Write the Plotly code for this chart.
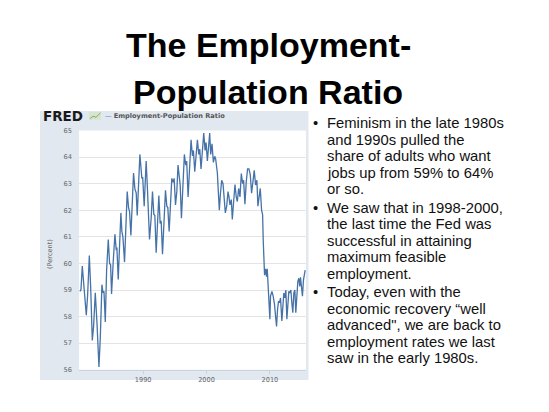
import plotly.graph_objects as go

# ---- data ----
years = [1980.00, 1980.18, 1980.39, 1980.60, 1980.76, 1981.02, 1981.23, 1981.50, 1981.71, 1981.97,
         1982.18, 1982.44, 1982.70, 1983.02, 1983.23, 1983.49, 1983.65, 1983.81, 1984.02, 1984.23,
         1984.49, 1984.70, 1984.86, 1985.01, 1985.28, 1985.54, 1985.75, 1985.85, 1986.06, 1986.27,
         1986.48, 1986.64, 1986.80, 1987.06, 1987.27, 1987.48, 1987.69, 1987.85, 1988.06, 1988.27,
         1988.48, 1988.69, 1988.90, 1989.06, 1989.26, 1989.48, 1989.79, 1989.92, 1990.16, 1990.47,
         1990.68, 1991.00, 1991.26, 1991.47, 1991.68, 1991.84, 1992.05, 1992.26, 1992.47, 1992.68,
         1992.84, 1993.05, 1993.26, 1993.52, 1993.73, 1993.89, 1994.10, 1994.30, 1994.52, 1994.73,
         1994.89, 1995.10, 1995.31, 1995.50, 1995.73, 1995.84, 1996.04, 1996.25, 1996.50, 1996.71,
         1996.87, 1997.09, 1997.30, 1997.56, 1997.77, 1997.93, 1998.14, 1998.35, 1998.56, 1998.77,
         1998.93, 1999.13, 1999.34, 1999.56, 1999.77, 1999.93, 2000.13, 2000.35, 2000.50, 2000.66,
         2000.87, 2001.08, 2001.29, 2001.44, 2001.71, 2001.86, 2002.02, 2002.18, 2002.39, 2002.60,
         2002.81, 2002.97, 2003.18, 2003.39, 2003.54, 2003.70, 2003.91, 2004.07, 2004.28, 2004.49,
         2004.70, 2004.86, 2005.07, 2005.28, 2005.49, 2005.70, 2005.85, 2006.06, 2006.27, 2006.48,
         2006.69, 2006.90, 2007.11, 2007.32, 2007.53, 2007.74, 2007.95, 2008.11, 2008.32, 2008.48,
         2008.69, 2008.85, 2008.95, 2009.06, 2009.16, 2009.32, 2009.47, 2009.58, 2009.79, 2010.00,
         2010.10, 2010.32, 2010.52, 2010.73, 2010.89, 2011.05, 2011.21, 2011.37, 2011.52, 2011.68,
         2011.89, 2012.05, 2012.20, 2012.36, 2012.52, 2012.68, 2012.83, 2012.99, 2013.15, 2013.31,
         2013.46, 2013.62, 2013.78, 2013.94, 2014.09, 2014.25, 2014.41, 2014.57, 2014.72, 2014.83,
         2014.99, 2015.14, 2015.30, 2015.46, 2015.57]
epop = [58.95, 59.0, 59.9, 59.25, 59.1, 58.05, 58.8, 60.3, 59.1, 57.1,
        57.65, 58.9, 57.8, 56.1, 57.2, 59.2, 58.9, 58.95, 57.8, 59.75,
        60.9, 60.0, 59.95, 58.85, 60.1, 61.1, 60.5, 60.6, 59.4, 60.6,
        61.9, 61.2, 61.0, 60.05, 61.2, 62.7, 62.1, 61.95, 61.05, 62.2,
        63.4, 62.8, 62.65, 61.8, 62.95, 64.1, 63.2, 63.25, 62.15, 63.85,
        62.75, 60.9, 61.7, 62.7, 61.85, 61.8, 60.4, 61.6, 62.55, 61.5,
        61.6, 60.35, 61.45, 62.75, 62.15, 62.1, 61.2, 62.2, 63.2, 63.05,
        63.2, 62.2, 62.7, 63.7, 63.2, 62.95, 61.7, 62.95, 64.1, 63.7,
        63.85, 62.5, 63.7, 64.65, 64.05, 64.25, 63.45, 64.2, 64.65, 64.1,
        64.3, 63.55, 64.3, 64.9, 64.25, 64.55, 63.85, 64.65, 64.9, 64.1,
        64.5, 63.8, 64.03, 63.93, 63.4, 62.7, 62.0, 62.58, 63.13, 63.0,
        62.4, 61.9, 62.15, 62.7, 62.5, 62.2, 62.4, 61.65, 62.33, 62.97,
        62.48, 62.33, 62.82, 62.5, 63.38, 63.0, 63.13, 62.23, 63.07, 63.56,
        63.56, 63.34, 62.64, 63.13, 63.5, 62.95, 63.13, 62.15, 62.58, 62.82,
        62.0, 61.84, 60.85, 59.87, 59.56, 59.8, 59.5, 59.8, 58.9, 57.9,
        58.77, 58.95, 58.77, 58.46, 58.03, 57.63, 58.27, 58.58, 58.52, 58.7,
        57.84, 58.58, 58.89, 58.7, 59.0, 57.9, 58.64, 58.95, 58.89, 59.0,
        58.52, 58.15, 58.89, 59.0, 58.15, 58.77, 59.32, 59.44, 59.13, 59.48,
        59.13, 58.77, 59.38, 59.69, 59.75]

x_ticks = [1990, 2000, 2010]
y_ticks = [56, 57, 58, 59, 60, 61, 62, 63, 64, 65]
series_name = "Employment-Population Ratio"
y_unit = "(Percent)"
title_lines = ["The Employment-", "Population Ratio"]
bullets = [
    ["Feminism in the late 1980s", "and 1990s pulled the", "share of adults who want",
     "jobs up from 59% to 64%", "or so."],
    ["We saw that in 1998-2000,", "the last time the Fed was", "successful in attaining",
     "maximum feasible", "employment."],
    ["Today, even with the", "economic recovery \u201cwell", "advanced\", we are back to",
     "employment rates we last", "saw in the early 1980s."],
]

# ---- layout helpers (pixel -> paper) ----
W, H = 549, 412
def px(x):
    return x / W
def py(y):
    return 1 - y / H

LINE_BLUE = "#4572A7"
PANEL = "#e1e8f0"
TICK_GRAY = "#666666"

PLOT_L, PLOT_R, PLOT_T, PLOT_B = 79, 306, 129, 373

fig = go.Figure()
fig.add_trace(go.Scatter(x=years, y=epop, mode="lines", name=series_name,
                         line=dict(color=LINE_BLUE, width=1.3), showlegend=False,
                         hoverinfo="x+y"))

# FRED panel background and white plotting area
fig.add_shape(type="rect", xref="paper", yref="paper",
              x0=px(40), x1=px(308.5), y0=py(383.5), y1=py(109),
              fillcolor=PANEL, line=dict(width=0), layer="below")
fig.add_shape(type="rect", xref="paper", yref="paper",
              x0=px(PLOT_L), x1=px(PLOT_R), y0=py(PLOT_B), y1=py(PLOT_T),
              fillcolor="#ffffff", line=dict(width=0), layer="below")

annotations = []
# title
title_font = dict(family="Liberation Sans, Arial, sans-serif", size=34, color="#000000", weight="bold")
for i, (line, base) in enumerate(zip(title_lines, [53, 101])):
    annotations.append(dict(text="<b>%s</b>" % line, xref="paper", yref="paper",
                            x=px(268), y=py(base - 11.5), xanchor="center", yanchor="middle",
                            showarrow=False, font=title_font))

# bullets
bfont = dict(family="Liberation Sans, Arial, sans-serif", size=14.8, color="#111111")
base = 126.7
line_h = 16.85
gap = 1.8
for para in bullets:
    for j, line in enumerate(para):
        if j == 0:
            annotations.append(dict(text="\u2022", xref="paper", yref="paper", x=px(315),
                                    y=py(base - 5), xanchor="center", yanchor="middle",
                                    showarrow=False, font=bfont))
        annotations.append(dict(text=line, xref="paper", yref="paper", x=px(325),
                                y=py(base - 5), xanchor="left", yanchor="middle",
                                showarrow=False, font=bfont))
        base += line_h
    base += gap

# FRED header
annotations.append(dict(text="<b>FRED</b>", xref="paper", yref="paper", x=px(41), y=py(114),
                        xanchor="left", yanchor="middle", showarrow=False,
                        font=dict(family="DejaVu Sans, Verdana, sans-serif", size=13.5, color="#1a1a1a")))
annotations.append(dict(text="<span style='color:%s'>\u2014</span> <b>%s</b>" % (LINE_BLUE, series_name),
                        xref="paper", yref="paper", x=px(103), y=py(114.5),
                        xanchor="left", yanchor="middle", showarrow=False,
                        font=dict(family="DejaVu Sans, Verdana, sans-serif", size=6.6, color="#555555")))
# y unit label
annotations.append(dict(text=y_unit, xref="paper", yref="paper", x=px(50), y=py(255),
                        xanchor="center", yanchor="middle", textangle=-90, showarrow=False,
                        font=dict(family="DejaVu Sans, Verdana, sans-serif", size=6.6, color=TICK_GRAY)))

# small chart icon next to FRED (decorative)
fig.add_shape(type="rect", xref="paper", yref="paper", x0=px(89), x1=px(101), y0=py(118), y1=py(110),
              fillcolor="#d6e4d0", line=dict(width=0), layer="above")
fig.add_shape(type="path", xref="paper", yref="paper",
              path="M %f %f L %f %f L %f %f L %f %f" % (px(90), py(117), px(93), py(114.5),
                                                         px(96), py(115.5), px(100.5), py(111)),
              line=dict(color="#7fae6b", width=1), layer="above")

fig.update_layout(
    width=W, height=H,
    margin=dict(l=0, r=0, t=0, b=0),
    paper_bgcolor="#ffffff",
    plot_bgcolor="rgba(0,0,0,0)",
    annotations=annotations,
    xaxis=dict(domain=[px(PLOT_L), px(PLOT_R)], range=[1979.87, 2015.7], tickvals=x_ticks,
               ticktext=[str(v) for v in x_ticks], showgrid=False, zeroline=False,
               showline=True, linecolor="#c9d3de", linewidth=1,
               ticks="outside", ticklen=3, tickcolor="#c9d3de",
               tickfont=dict(family="DejaVu Sans, Verdana, sans-serif", size=6.6, color=TICK_GRAY)),
    yaxis=dict(domain=[py(PLOT_B), py(PLOT_T)], range=[56, 65], tickvals=y_ticks,
               showgrid=True, gridcolor="#e4e4e4", gridwidth=1, zeroline=False,
               showline=False, ticks="", ticklabelstandoff=6,
               tickfont=dict(family="DejaVu Sans, Verdana, sans-serif", size=6.6, color=TICK_GRAY)),
)

fig.write_html("out.html", config={"displayModeBar": False},
               post_script="document.body.style.margin='0';document.body.style.overflow='hidden';")
